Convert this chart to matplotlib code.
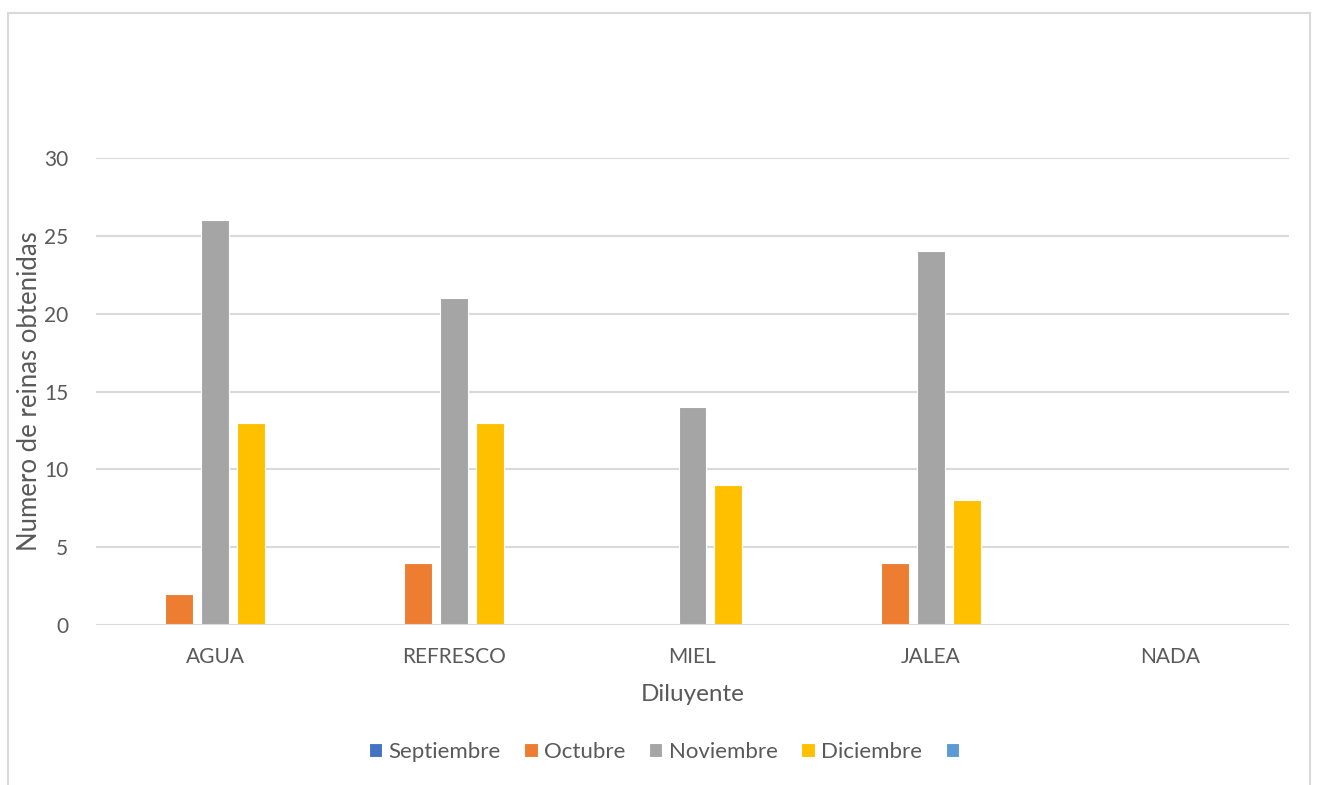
import numpy as np
import matplotlib.pyplot as plt
from matplotlib.patches import Rectangle

# Data
categorias = ['AGUA', 'REFRESCO', 'MIEL', 'JALEA', 'NADA']
series = ['Septiembre', 'Octubre', 'Noviembre', 'Diciembre', ' ']
septiembre = [0, 0, 0, 0, 0]
octubre = [2, 4, 0, 4, 0]
noviembre = [26, 21, 14, 24, 0]
diciembre = [13, 13, 9, 8, 0]
vacia = [0, 0, 0, 0, 0]
yticks = [0, 5, 10, 15, 20, 25, 30]

colores = ['#4472C4', '#ED7D31', '#A5A5A5', '#FFC000', '#5B9BD5']
valores = [septiembre, octubre, noviembre, diciembre, vacia]

plt.rcParams['font.family'] = ['Lato', 'DejaVu Sans']
gris_texto = '#595959'
gris_linea = '#D9D9D9'

fig = plt.figure(figsize=(13.18, 7.85), dpi=100)
W, H = 1318, 785
ax = fig.add_axes([96 / W, 1 - 625 / H, (1289 - 96) / W, (625 - 158) / H])

# chart frame
fig.patches.append(Rectangle((8 / W, -0.05), (1310 - 8) / W, 1 - 13 / H + 0.05,
                             transform=fig.transFigure, fill=False,
                             edgecolor=gris_linea, linewidth=1.5, zorder=0))

x = np.arange(len(categorias))
ancho = 0.117
paso = 0.1506
barras = []
for i, (vals, col, nombre) in enumerate(zip(valores, colores, series)):
    b = ax.bar(x + (i - 2) * paso, vals, ancho, color=col, edgecolor='white',
               linewidth=0.8, zorder=2)
    barras.append(b)

ax.set_xlim(-0.5, len(categorias) - 0.5)
ax.set_ylim(0, 30)
ax.set_yticks(yticks)
ax.set_xticks(x)
ax.set_xticklabels(categorias)
for y in yticks:
    ax.axhline(y, color=gris_linea, linewidth=1.5, zorder=1 if y else 3)

for s in ax.spines.values():
    s.set_visible(False)
ax.tick_params(axis='both', length=0, labelsize=15, colors=gris_texto)
ax.tick_params(axis='y', pad=20)
ax.tick_params(axis='x', pad=16)

ax.set_xlabel('Diluyente', fontsize=17.5, color=gris_texto, labelpad=12)
ax.set_ylabel('Numero de reinas obtenidas', fontsize=18.5, color=gris_texto)
ax.yaxis.set_label_coords((42 - 96) / (1289 - 96), 0.5)

fig.legend(barras, series, loc='center', bbox_to_anchor=(670 / W, 1 - 752 / H), ncol=5,
           frameon=False, fontsize=16, labelcolor=gris_texto,
           handlelength=0.6, handleheight=0.6, handletextpad=0.3, columnspacing=1.05)

fig.savefig('out.png', dpi=100)
